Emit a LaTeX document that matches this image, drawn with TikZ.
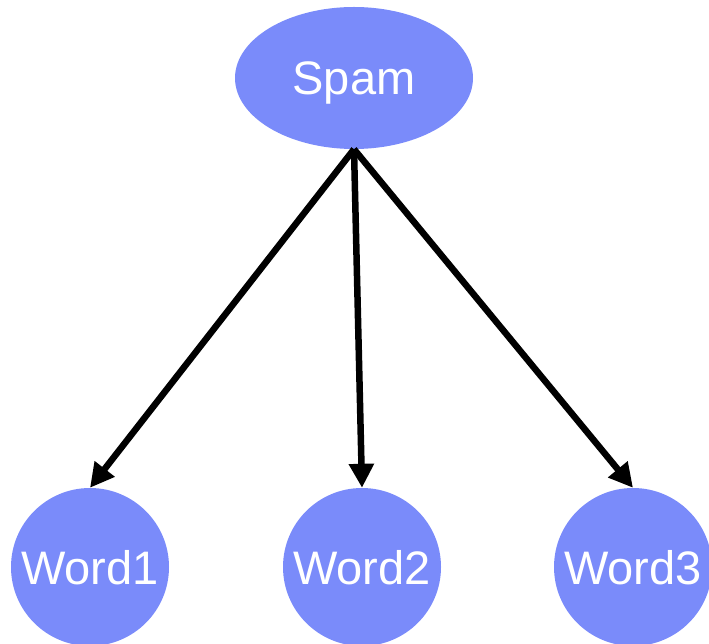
\documentclass[tikz,border=0pt]{standalone}
\usepackage{fontspec}
\setmainfont{Liberation Sans}
\usetikzlibrary{shapes.geometric,arrows.meta}
\definecolor{nodeblue}{RGB}{122,139,250}
\begin{document}
\begin{tikzpicture}
[
    x=1pt, y=-1pt,
    common/.style={fill=nodeblue, text=white, inner sep=0pt, text depth=0pt,
        font=\fontsize{47}{56}\selectfont},
    classnode/.style={common, shape=ellipse, minimum width=238pt, minimum height=142pt},
    wordnode/.style={common, shape=circle, minimum size=158pt},
    link/.style={line width=6.5pt, -{Triangle[length=24pt,width=24pt]}},
]
\useasboundingbox (0,0) rectangle (709,644);
\node[classnode] (spam) at (354,78) {Spam};
\node[wordnode] (word1) at (90,567) {Word1};
\node[wordnode] (word2) at (362,567) {Word2};
\node[wordnode] (word3) at (633,567) {Word3};
\draw[link] (spam.south) -- (word1.north);
\draw[link] (spam.south) -- (word2.north);
\draw[link] (spam.south) -- (word3.north);
\end{tikzpicture}
\end{document}
